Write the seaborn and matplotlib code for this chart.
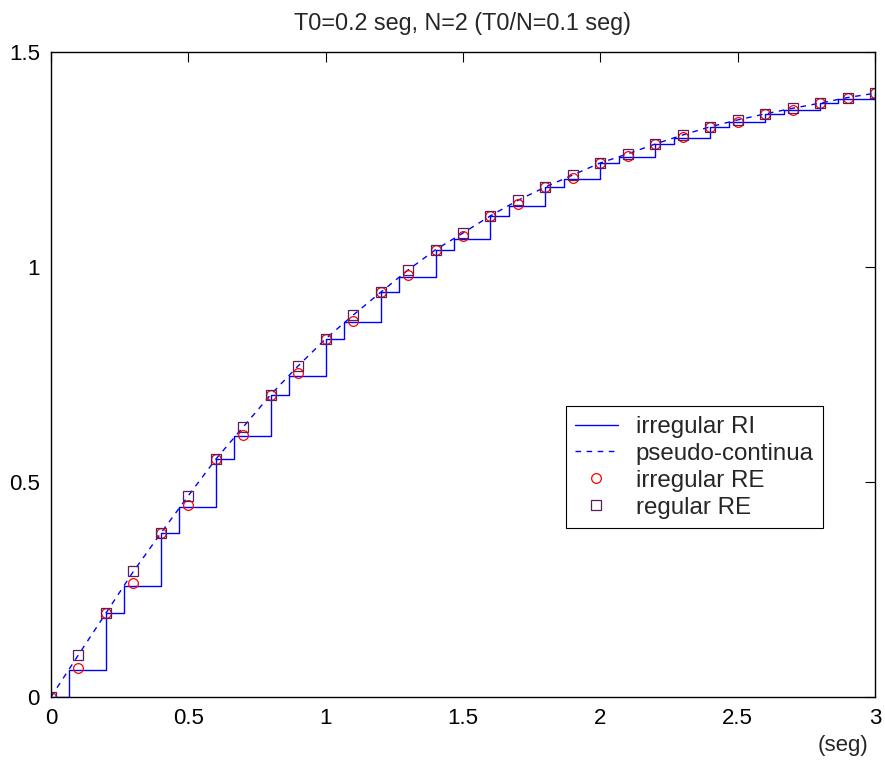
import numpy as np
import pandas as pd
import matplotlib
matplotlib.use("Agg")
import matplotlib.pyplot as plt
import seaborn as sns

# sample times (regular, T0/N = 0.1 s)
t_reg = [round(0.1 * k, 1) for k in range(31)]

# regular RE (squares)
regular_re = [0.000, 0.098, 0.195, 0.292, 0.381, 0.468, 0.553, 0.628, 0.703, 0.770,
              0.833, 0.888, 0.941, 0.993, 1.040, 1.079, 1.119, 1.155, 1.186, 1.214,
              1.242, 1.263, 1.286, 1.307, 1.326, 1.342, 1.356, 1.369, 1.381, 1.394,
              1.404]

# irregular RE (circles)
irregular_re = [0.000, 0.067, 0.195, 0.266, 0.381, 0.447, 0.553, 0.609, 0.703, 0.753,
                0.833, 0.874, 0.941, 0.981, 1.040, 1.072, 1.119, 1.147, 1.186, 1.207,
                1.242, 1.258, 1.286, 1.302, 1.326, 1.337, 1.356, 1.365, 1.381, 1.392,
                1.404]

# pseudo-continuous response
pseudo_y = regular_re

# irregular RI staircase (step change times and held values)
t_ri = [0.0, 0.067, 0.2, 0.267, 0.4, 0.467, 0.6, 0.667, 0.8, 0.867,
        1.0, 1.067, 1.2, 1.267, 1.4, 1.467, 1.6, 1.667, 1.8, 1.867,
        2.0, 2.067, 2.2, 2.267, 2.4, 2.467, 2.6, 2.667, 2.8, 2.867, 3.0]
y_ri = [0.000, 0.063, 0.195, 0.257, 0.381, 0.443, 0.553, 0.607, 0.703, 0.747,
        0.833, 0.871, 0.941, 0.977, 1.040, 1.065, 1.119, 1.142, 1.185, 1.205,
        1.242, 1.256, 1.286, 1.300, 1.326, 1.336, 1.356, 1.364, 1.381, 1.391,
        1.404]

sns.set_style("white")
plt.rcParams['font.family'] = ['Liberation Sans', 'DejaVu Sans']

fig = plt.figure(figsize=(8.85, 7.62), dpi=100)
ax = fig.add_axes([0.0576, 0.0853, 0.9311, 0.8465])

sns.lineplot(x=t_ri, y=y_ri, ax=ax, drawstyle='steps-post', color='blue',
             linewidth=1.0, label='irregular RI', estimator=None, sort=False)
sns.lineplot(x=t_reg, y=pseudo_y, ax=ax, color='blue', linewidth=1.0,
             linestyle=(0, (4, 4)), label='pseudo-continua', estimator=None, sort=False)
sns.lineplot(x=t_reg, y=irregular_re, ax=ax, linestyle='none', marker='o',
             markersize=7, markerfacecolor='none', markeredgecolor='red',
             markeredgewidth=0.9, color='red', label='irregular RE', estimator=None)
sns.lineplot(x=t_reg, y=regular_re, ax=ax, linestyle='none', marker='s',
             markersize=7, markerfacecolor='none', markeredgecolor='#5a1f5a',
             markeredgewidth=0.9, color='#5a1f5a', label='regular RE', estimator=None)

ax.set_xlim(0, 3)
ax.set_ylim(0, 1.5)
ax.set_xticks([0, 0.5, 1, 1.5, 2, 2.5, 3])
ax.set_xticklabels(['0', '0.5', '1', '1.5', '2', '2.5', '3'])
ax.set_yticks([0, 0.5, 1, 1.5])
ax.set_yticklabels(['0', '0.5', '1', '1.5'])
ax.tick_params(direction='in', length=7, width=0.8, labelsize=16, colors='black',
               top=True, right=True, pad=8)
for sp in ax.spines.values():
    sp.set_color('black')
    sp.set_linewidth(1.0)

ax.set_title('T0=0.2 seg, N=2 (T0/N=0.1 seg)', fontsize=16.8, pad=16)
ax.set_xlabel('')
ax.set_ylabel('')
ax.text(0.961, -0.075, '(seg)', transform=ax.transAxes, fontsize=16,
        ha='center', va='center')

leg = ax.legend(loc='lower left', bbox_to_anchor=(0.6245, 0.2616), fontsize=17.4,
                frameon=True, fancybox=False, edgecolor='black', framealpha=1,
                handlelength=1.75, handletextpad=0.75, borderpad=0.4,
                labelspacing=0.2, borderaxespad=0)
leg.get_frame().set_linewidth(0.8)

fig.savefig('out.png', dpi=100)
